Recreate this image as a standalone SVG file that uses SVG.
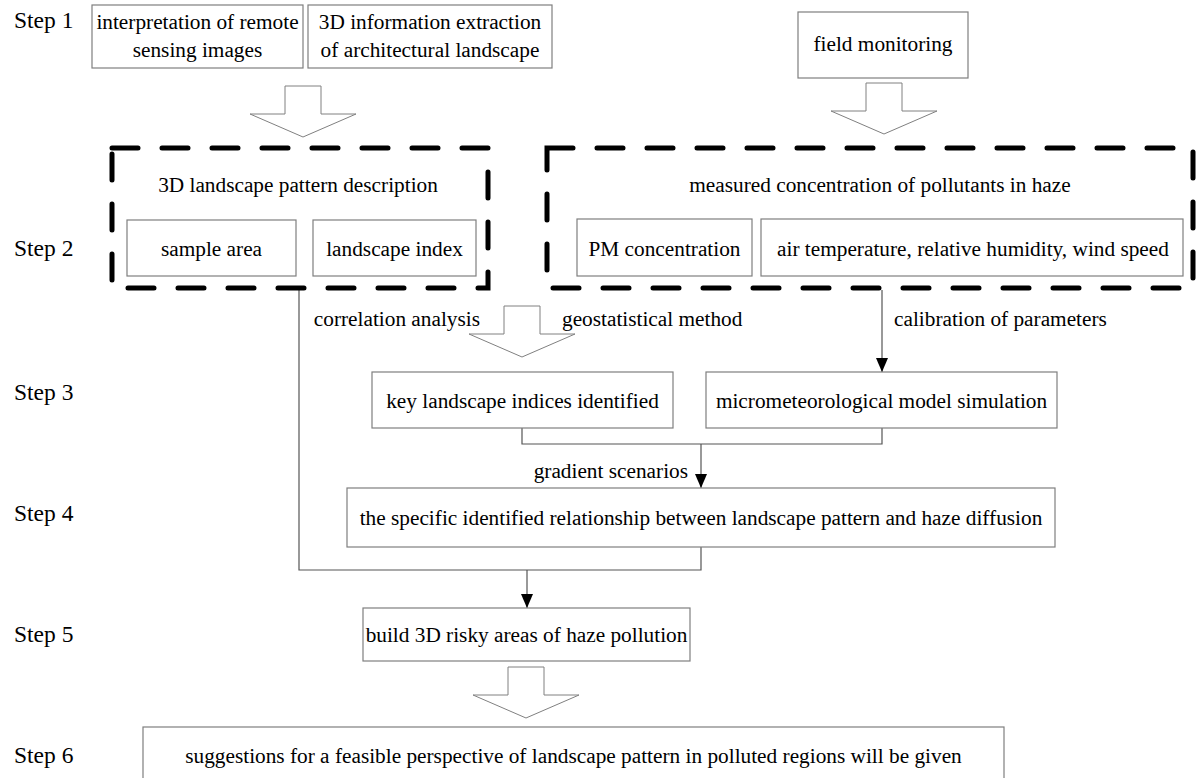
<svg xmlns="http://www.w3.org/2000/svg" width="1200" height="778" viewBox="0 0 1200 778">
<style>
text{font-family:"Liberation Serif","Times New Roman","DejaVu Serif",serif;fill:#000;}
.t{font-size:21.3px;text-anchor:middle;}
.l{font-size:21.3px;}
.e{font-size:21.3px;text-anchor:end;}
.step{font-size:23.5px;}
.box{fill:#fff;stroke:#7f7f7f;stroke-width:1.2;}
.dash{fill:none;stroke:#000;stroke-width:5;stroke-dasharray:26 24;stroke-linecap:round;}
.blk{fill:#fff;stroke:#808080;stroke-width:1;}
.con{fill:none;stroke:#555;stroke-width:1.2;}
</style>
<defs>
<path id="blkarrow" d="M-18,0 L18,0 L18,28 L53,28 L0,51 L-53,28 L-18,28 Z"/>
<marker id="ad" viewBox="0 0 12 14" refX="6" refY="14" markerWidth="12" markerHeight="14" markerUnits="userSpaceOnUse" orient="0">
<path d="M0,0 L12,0 L6,14 Z" fill="#000"/>
</marker>
</defs>
<g id="steps">
<text class="step" x="14" y="28">Step 1</text>
<text class="step" x="14" y="256">Step 2</text>
<text class="step" x="14" y="400">Step 3</text>
<text class="step" x="14" y="521">Step 4</text>
<text class="step" x="14" y="642">Step 5</text>
<text class="step" x="14" y="763">Step 6</text>
</g>
<g id="connectors">
<polyline class="con" points="299,290 299,570 701,570 701,547"/>
<line class="con" x1="527" y1="570" x2="527" y2="608" marker-end="url(#ad)"/>
<line class="con" x1="882" y1="290" x2="882" y2="372" marker-end="url(#ad)"/>
<polyline class="con" points="522,428 522,444 882,444 882,428"/>
<line class="con" x1="701" y1="444" x2="701" y2="488" marker-end="url(#ad)"/>
<use href="#blkarrow" class="blk" x="303" y="86"/>
<use href="#blkarrow" class="blk" x="884" y="83"/>
<use href="#blkarrow" class="blk" x="522" y="306"/>
<use href="#blkarrow" class="blk" x="526" y="667"/>
<text class="e" x="480" y="326">correlation analysis</text>
<text class="l" x="562" y="326">geostatistical method</text>
<text class="l" x="894" y="326">calibration of parameters</text>
<text class="e" x="688" y="478">gradient scenarios</text>
</g>
<g id="n-remote">
<rect class="box" x="92" y="5" width="211" height="63"/>
<text class="t" x="197.5" y="29">interpretation of remote</text>
<text class="t" x="197.5" y="57">sensing images</text>
</g>
<g id="n-3dinfo">
<rect class="box" x="308" y="5" width="244" height="63"/>
<text class="t" x="430" y="29">3D information extraction</text>
<text class="t" x="430" y="57">of architectural landscape</text>
</g>
<g id="n-field">
<rect class="box" x="798" y="12" width="170" height="66"/>
<text class="t" x="883" y="51">field monitoring</text>
</g>
<g id="n-pattern">
<rect class="dash" x="112" y="148" width="376" height="140"/>
<text class="t" x="298" y="192">3D landscape pattern description</text>
</g>
<g id="n-sample">
<rect class="box" x="127" y="220" width="169" height="56"/>
<text class="t" x="211.5" y="256">sample area</text>
</g>
<g id="n-index">
<rect class="box" x="313" y="220" width="163" height="56"/>
<text class="t" x="394.5" y="256">landscape index</text>
</g>
<g id="n-measured">
<rect class="dash" x="547" y="148" width="646" height="140"/>
<text class="t" x="880" y="192">measured concentration of pollutants in haze</text>
</g>
<g id="n-pm">
<rect class="box" x="577" y="219" width="175" height="57"/>
<text class="t" x="664.5" y="256">PM concentration</text>
</g>
<g id="n-air">
<rect class="box" x="761" y="219" width="422" height="57"/>
<text class="t" x="973" y="256">air temperature, relative humidity, wind speed</text>
</g>
<g id="n-key">
<rect class="box" x="372" y="372" width="301" height="56"/>
<text class="t" x="522.5" y="408">key landscape indices identified</text>
</g>
<g id="n-micro">
<rect class="box" x="706" y="372" width="351" height="56"/>
<text class="t" x="881.5" y="408">micrometeorological model simulation</text>
</g>
<g id="n-relation">
<rect class="box" x="347" y="488" width="708" height="59"/>
<text class="t" x="701" y="525">the specific identified relationship between landscape pattern and haze diffusion</text>
</g>
<g id="n-risky">
<rect class="box" x="363" y="608" width="327" height="53"/>
<text class="t" x="526.5" y="642">build 3D risky areas of haze pollution</text>
</g>
<g id="n-suggest">
<rect class="box" x="143" y="727" width="861" height="70"/>
<text class="t" x="573.5" y="763">suggestions for a feasible perspective of landscape pattern in polluted regions will be given</text>
</g>
</svg>
